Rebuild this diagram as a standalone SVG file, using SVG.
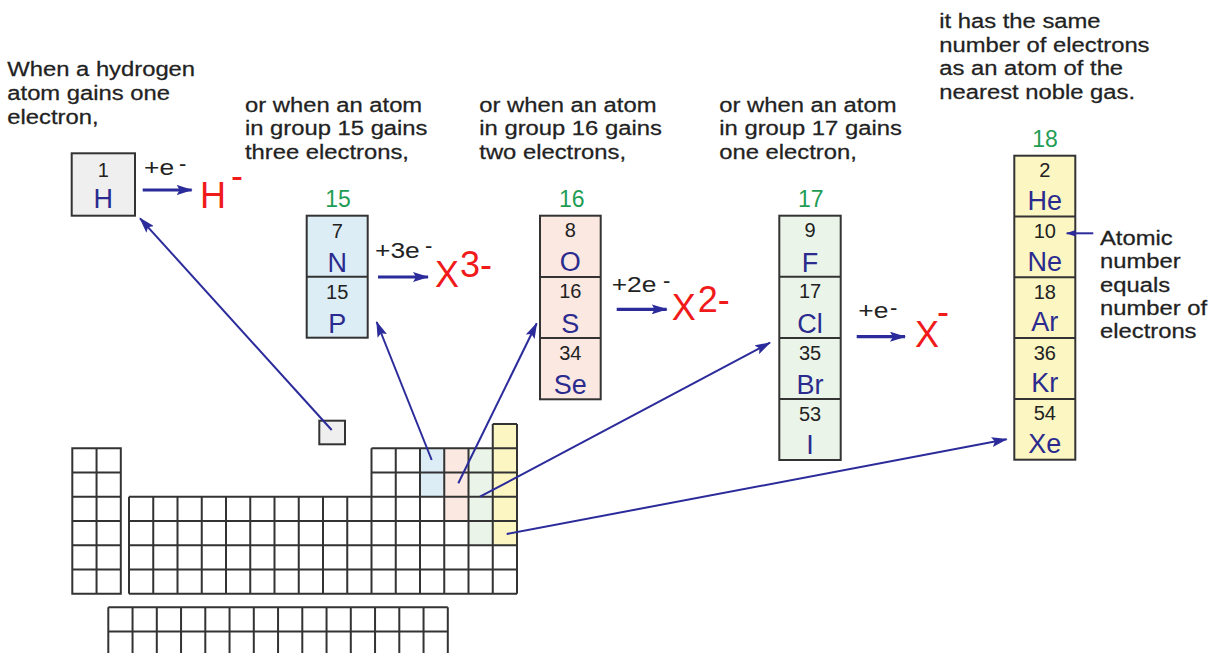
<svg xmlns="http://www.w3.org/2000/svg" width="1223" height="653" viewBox="0 0 1223 653">
<style>
.p{font-family:"Liberation Sans",Arial,sans-serif;font-size:20px;fill:#222;stroke:#222;stroke-width:0.25}
.num{font-family:"Liberation Sans",Arial,sans-serif;font-size:20px;fill:#222;text-anchor:middle}
.sym{font-family:"Liberation Sans",Arial,sans-serif;font-size:27px;fill:#2b2b8f;text-anchor:middle}
.grp{font-family:"Liberation Sans",Arial,sans-serif;font-size:23px;fill:#1f9d55;text-anchor:middle}
.gain{font-family:"Liberation Sans",Arial,sans-serif;font-size:22px;fill:#222}
.ion{font-family:"Liberation Sans",Arial,sans-serif;font-size:36px;fill:#f01a1a}
.box{stroke:#333;stroke-width:2}
.grid{fill:none;stroke:#333;stroke-width:2}
.con{stroke:#2b2b9b;stroke-width:2;fill:none}
.rx{stroke:#2b2b9b;stroke-width:3.2;fill:none}
</style>
<defs>
<marker id="ah" viewBox="0 0 16 10" refX="15" refY="5" markerWidth="16" markerHeight="10" markerUnits="userSpaceOnUse" orient="auto">
<path d="M0,0 L16,5 L0,10 L3,5 Z" fill="#2b2b9b"/>
</marker>
<marker id="ahs" viewBox="0 0 12 8" refX="11" refY="4" markerWidth="11" markerHeight="7" markerUnits="userSpaceOnUse" orient="auto">
<path d="M0,0 L12,4 L0,8 L2,4 Z" fill="#2b2b9b"/>
</marker>
</defs>
<rect width="1223" height="653" fill="#fff"/>

<g id="table">
<rect x="420" y="448.3" width="24.25" height="48.5" fill="#dcedf6"/>
<rect x="444.25" y="448.3" width="24.25" height="72.8" fill="#fbe8e1"/>
<rect x="468.5" y="448.3" width="24.25" height="97" fill="#ebf4e8"/>
<rect x="492.75" y="424" width="24.25" height="121.3" fill="#fbf6c2"/>
<rect x="319.3" y="420.7" width="25.7" height="23.6" fill="#efefef" class="box"/>
<path class="grid" d="M72.3 448.3H120.8V593.8H72.3Z M96.55 448.3V593.8 M72.3 472.6H120.8 M72.3 496.8H120.8 M72.3 521.1H120.8 M72.3 545.3H120.8 M72.3 569.6H120.8
M492.75 424H517 M371.5 448.3H517 M371.5 472.6H517 M129 496.8H517 M129 521.1H517 M129 545.3H517 M129 569.6H517 M129 593.8H517
M129 496.8V593.8 M153.25 496.8V593.8 M177.5 496.8V593.8 M201.75 496.8V593.8 M226 496.8V593.8 M250.25 496.8V593.8 M274.5 496.8V593.8 M298.75 496.8V593.8 M323 496.8V593.8 M347.25 496.8V593.8
M371.5 448.3V593.8 M395.75 448.3V593.8 M420 448.3V593.8 M444.25 448.3V593.8 M468.5 448.3V593.8 M492.75 424V593.8 M517 424V593.8
M108.3 607.3H447.8 M108.3 631.5H447.8 M108.3 655.7H447.8
M108.3 607.3V660 M132.55 607.3V660 M156.8 607.3V660 M181.05 607.3V660 M205.3 607.3V660 M229.55 607.3V660 M253.8 607.3V660 M278.05 607.3V660 M302.3 607.3V660 M326.55 607.3V660 M350.8 607.3V660 M375.05 607.3V660 M399.3 607.3V660 M423.55 607.3V660 M447.8 607.3V660"/>
</g>

<g id="intro-h" transform="translate(7.3 0) scale(1.19 1)">
<text class="p" x="0" y="76">When a hydrogen</text>
<text class="p" x="0" y="100">atom gains one</text>
<text class="p" x="0" y="124">electron,</text>
</g>

<g id="hydrogen">
<rect x="71.7" y="153.3" width="63.3" height="62.4" fill="#efefef" class="box"/>
<text class="num" x="103.3" y="176.7">1</text>
<text class="sym" x="103.3" y="208.3">H</text>
</g>
<g id="h-ion">
<text class="gain" transform="translate(144 175) scale(1.2 1)">+e</text>
<text class="gain" x="179" y="171" font-size="20">-</text>
<text class="ion" x="200" y="208.3" font-size="34">H</text>
<text class="ion" x="231" y="188" font-size="26">-</text>
</g>

<g id="intro-15" transform="translate(245 0) scale(1.19 1)">
<text class="p" x="0" y="111.7">or when an atom</text>
<text class="p" x="0" y="135.2">in group 15 gains</text>
<text class="p" x="0" y="158.7">three electrons,</text>
</g>
<g id="group15">
<text class="grp" x="338" y="206.7">15</text>
<rect x="306.7" y="215.7" width="61" height="122" fill="#dcedf6" class="box"/>
<line x1="306.7" y1="276.7" x2="367.7" y2="276.7" class="box"/>
<text class="num" x="337.2" y="238">7</text>
<text class="sym" x="337.2" y="272">N</text>
<text class="num" x="337.2" y="299">15</text>
<text class="sym" x="337.2" y="333">P</text>
</g>
<g id="ion15">
<text class="gain" transform="translate(375 258) scale(1.2 1)">+3e</text>
<text class="gain" x="425" y="252.5" font-size="20">-</text>
<text class="ion" x="435" y="287">X</text>
<text class="ion" x="460" y="277" font-size="21">3-</text>
</g>

<g id="intro-16" transform="translate(479.3 0) scale(1.19 1)">
<text class="p" x="0" y="111.7">or when an atom</text>
<text class="p" x="0" y="135.2">in group 16 gains</text>
<text class="p" x="0" y="158.7">two electrons,</text>
</g>
<g id="group16">
<text class="grp" x="571.7" y="206.7">16</text>
<rect x="540" y="215.7" width="60.7" height="183.6" fill="#fbe8e1" class="box"/>
<line x1="540" y1="276.9" x2="600.7" y2="276.9" class="box"/>
<line x1="540" y1="338.1" x2="600.7" y2="338.1" class="box"/>
<text class="num" x="570.3" y="236.5">8</text>
<text class="sym" x="570.3" y="271">O</text>
<text class="num" x="570.3" y="298.3">16</text>
<text class="sym" x="570.3" y="332.8">S</text>
<text class="num" x="570.3" y="359.5">34</text>
<text class="sym" x="570.3" y="394">Se</text>
</g>
<g id="ion16">
<text class="gain" transform="translate(611.7 291.7) scale(1.2 1)">+2e</text>
<text class="gain" x="663" y="287.5" font-size="20">-</text>
<text class="ion" x="671.7" y="320">X</text>
<text class="ion" x="697.7" y="312" font-size="21">2-</text>
</g>

<g id="intro-17" transform="translate(719.3 0) scale(1.19 1)">
<text class="p" x="0" y="111.7">or when an atom</text>
<text class="p" x="0" y="135.2">in group 17 gains</text>
<text class="p" x="0" y="158.7">one electron,</text>
</g>
<g id="group17">
<text class="grp" x="810.7" y="206.7">17</text>
<rect x="779.3" y="215.7" width="61.4" height="244.3" fill="#ebf4e8" class="box"/>
<line x1="779.3" y1="276.8" x2="840.7" y2="276.8" class="box"/>
<line x1="779.3" y1="337.9" x2="840.7" y2="337.9" class="box"/>
<line x1="779.3" y1="398.9" x2="840.7" y2="398.9" class="box"/>
<text class="num" x="810" y="237">9</text>
<text class="sym" x="810" y="271.5">F</text>
<text class="num" x="810" y="298.3">17</text>
<text class="sym" x="810" y="332.8">Cl</text>
<text class="num" x="810" y="359.5">35</text>
<text class="sym" x="810" y="394">Br</text>
<text class="num" x="810" y="420.5">53</text>
<text class="sym" x="810" y="454" font-family="Liberation Serif,serif">I</text>
</g>
<g id="ion17">
<text class="gain" transform="translate(858.3 318.3) scale(1.2 1)">+e</text>
<text class="gain" x="890" y="315" font-size="20">-</text>
<text class="ion" x="915" y="346.7">X</text>
<text class="ion" x="937" y="324" font-size="26">-</text>
</g>

<g id="intro-18" transform="translate(939.3 0) scale(1.19 1)">
<text class="p" x="0" y="28.3">it has the same</text>
<text class="p" x="0" y="51.9">number of electrons</text>
<text class="p" x="0" y="75.5">as an atom of the</text>
<text class="p" x="0" y="99">nearest noble gas.</text>
</g>
<g id="group18">
<text class="grp" x="1045" y="146.7">18</text>
<rect x="1014.3" y="155.7" width="61" height="304" fill="#fbf6c2" class="box"/>
<line x1="1014.3" y1="216.5" x2="1075.3" y2="216.5" class="box"/>
<line x1="1014.3" y1="277.3" x2="1075.3" y2="277.3" class="box"/>
<line x1="1014.3" y1="338.1" x2="1075.3" y2="338.1" class="box"/>
<line x1="1014.3" y1="398.9" x2="1075.3" y2="398.9" class="box"/>
<text class="num" x="1044.8" y="177">2</text>
<text class="sym" x="1044.8" y="209.5">He</text>
<text class="num" x="1044.8" y="238">10</text>
<text class="sym" x="1044.8" y="270.5">Ne</text>
<text class="num" x="1044.8" y="298.8">18</text>
<text class="sym" x="1044.8" y="331.3">Ar</text>
<text class="num" x="1044.8" y="359.6">36</text>
<text class="sym" x="1044.8" y="392.1">Kr</text>
<text class="num" x="1044.8" y="420.4">54</text>
<text class="sym" x="1044.8" y="452.9">Xe</text>
</g>
<g id="note" transform="translate(1100 0) scale(1.19 1)">
<text class="p" x="0" y="245">Atomic</text>
<text class="p" x="0" y="268.3">number</text>
<text class="p" x="0" y="291.7">equals</text>
<text class="p" x="0" y="315">number of</text>
<text class="p" x="0" y="338.3">electrons</text>
</g>

<g id="connectors">
<line class="rx" x1="142.7" y1="190" x2="191.7" y2="190" marker-end="url(#ah)"/>
<line class="rx" x1="378" y1="277" x2="428" y2="277" marker-end="url(#ah)"/>
<line class="rx" x1="616.7" y1="309.3" x2="666.7" y2="309.3" marker-end="url(#ah)"/>
<line class="rx" x1="856.7" y1="336.7" x2="905" y2="336.7" marker-end="url(#ah)"/>
<line class="con" x1="331.7" y1="430" x2="140" y2="218.3" marker-end="url(#ah)"/>
<line class="con" x1="431.7" y1="460" x2="376.7" y2="322" marker-end="url(#ah)"/>
<line class="con" x1="458.3" y1="483.3" x2="536.7" y2="323.3" marker-end="url(#ah)"/>
<line class="con" x1="480" y1="496.7" x2="770" y2="342.7" marker-end="url(#ah)"/>
<line class="con" x1="506.7" y1="534" x2="1006.7" y2="439.3" marker-end="url(#ah)"/>
<line class="con" x1="1093.3" y1="233.3" x2="1066.7" y2="233.3" marker-end="url(#ahs)"/>
</g>
</svg>
